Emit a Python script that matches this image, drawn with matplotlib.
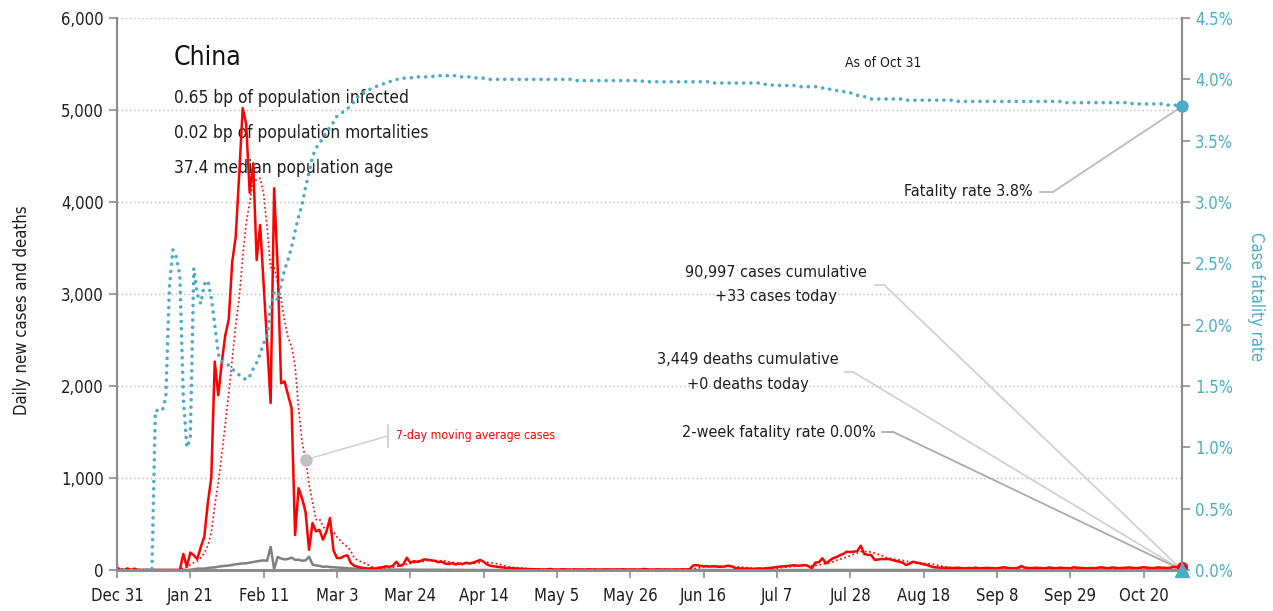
import numpy as np
import pandas as pd
import matplotlib
matplotlib.use('Agg')
import matplotlib.pyplot as plt

# Fonte estreita parecida com a do original
plt.rcParams['font.family'] = ['DejaVu Sans']
plt.rcParams['font.stretch'] = 'condensed'

# ===== DADOS ===== #
datas = pd.date_range('2019-12-31', '2020-10-31', freq='D')

# casos diários (China)
casos = [
    27, 0, 0, 17, 0, 15, 0, 0, 0, 0,
    0, 0, 0, 0, 0, 0, 0, 0, 0, 175,
    35, 190, 160, 120, 250, 360, 725, 1000, 2265, 1900,
    2250, 2550, 2720, 3350, 3620, 4300, 5020, 4850, 4100, 4420,
    3370, 3750, 3100, 2450, 1815, 4150, 3300, 2030, 2050, 1900,
    1760, 380, 890, 780, 630, 220, 510, 420, 435, 330,
    420, 565, 215, 130, 130, 150, 160, 75, 45, 35,
    25, 20, 15, 20, 15, 25, 30, 40, 35, 45,
    90, 45, 60, 134, 80, 95, 90, 100, 116, 110,
    105, 100, 85, 90, 70, 65, 75, 60, 70, 65,
    80, 70, 80, 95, 109, 90, 60, 45, 40, 35,
    30, 25, 20, 20, 18, 15, 12, 10, 10, 8,
    8, 6, 5, 6, 12, 5, 4, 6, 8, 5,
    4, 7, 5, 6, 3, 8, 5, 6, 4, 5,
    7, 5, 4, 6, 5, 8, 4, 5, 6, 4,
    5, 12, 6, 4, 5, 7, 4, 6, 5, 4,
    6, 5, 8, 6, 8, 50, 54, 45, 42, 40,
    38, 40, 36, 35, 38, 47, 40, 22, 18, 15,
    14, 16, 12, 15, 18, 14, 20, 22, 28, 32,
    38, 40, 44, 48, 52, 45, 50, 54, 42, 18,
    80, 85, 127, 72, 100, 127, 140, 160, 175, 199,
    195, 199, 205, 264, 174, 165, 163, 109, 115, 120,
    118, 120, 109, 100, 90, 80, 54, 70, 90, 80,
    72, 62, 54, 40, 30, 28, 25, 22, 24, 20,
    22, 25, 20, 18, 22, 20, 25, 18, 20, 24,
    22, 20, 18, 25, 30, 22, 20, 18, 24, 43,
    26, 22, 20, 25, 22, 18, 20, 28, 22, 20,
    25, 22, 20, 18, 30, 25, 22, 20, 18, 22,
    20, 25, 30, 22, 20, 28, 24, 20, 22, 25,
    28, 22, 20, 25, 30, 26, 22, 20, 28, 25,
    24, 22, 28, 35, 30, 33,
]

# óbitos diários
obitos = [
    0, 0, 0, 0, 0, 0, 0, 0, 0, 0,
    0, 0, 0, 0, 0, 0, 0, 0, 0, 0,
    0, 3, 8, 15, 15, 15, 22, 26, 28, 36,
    42, 45, 48, 55, 62, 66, 72, 73, 80, 88,
    95, 100, 105, 100, 252, 10, 140, 125, 115, 120,
    135, 110, 112, 100, 105, 145, 60, 50, 45, 35,
    38, 32, 30, 28, 25, 22, 18, 15, 12, 11,
    10, 8, 8, 7, 6, 6, 5, 5, 4, 6,
    4, 5, 4, 3, 4, 3, 3, 2, 3, 3,
    2, 3, 2, 2, 1, 2, 1, 1, 2, 1,
    1, 0, 1, 0, 0, 1, 0, 0, 0, 0,
    0, 0, 0, 0, 0, 0, 0, 0, 0, 0,
    0, 0, 0, 0, 0, 0, 0, 0, 0, 0,
    0, 0, 0, 0, 0, 0, 0, 0, 0, 0,
    0, 0, 0, 0, 0, 0, 0, 0, 0, 0,
    0, 0, 0, 0, 0, 0, 0, 0, 0, 0,
    0, 0, 0, 0, 0, 0, 0, 0, 0, 0,
    0, 0, 0, 0, 0, 0, 0, 0, 0, 0,
    0, 0, 0, 0, 0, 0, 0, 0, 0, 0,
    0, 0, 0, 0, 0, 0, 0, 0, 0, 0,
    0, 0, 0, 0, 0, 0, 0, 0, 0, 0,
    0, 0, 0, 0, 0, 0, 0, 0, 0, 0,
    0, 0, 0, 0, 0, 0, 0, 0, 0, 0,
    0, 0, 0, 0, 0, 0, 0, 0, 0, 0,
    0, 0, 0, 0, 0, 0, 0, 0, 0, 0,
    0, 0, 0, 0, 0, 0, 0, 0, 0, 0,
    0, 0, 0, 0, 0, 0, 0, 0, 0, 0,
    0, 0, 0, 0, 0, 0, 0, 0, 0, 0,
    0, 0, 0, 0, 0, 0, 0, 0, 0, 0,
    0, 0, 0, 0, 0, 0, 0, 0, 0, 0,
    0, 0, 0, 0, 0, 0,
]

# taxa de letalidade acumulada (%)
letalidade = [
    0, 0, 0, 0, 0, 0, 0, 0, 0, 0,
    0, 1.30, 1.30, 1.30, 1.41, 2.30, 2.61, 2.55, 2.40, 1.40,
    1.00, 1.07, 2.46, 2.25, 2.17, 2.33, 2.36, 2.22, 2.00, 1.76,
    1.70, 1.68, 1.67, 1.64, 1.61, 1.59, 1.57, 1.55, 1.58, 1.64,
    1.69, 1.76, 1.85, 1.90, 2.15, 2.26, 2.20, 2.33, 2.45, 2.53,
    2.63, 2.76, 2.88, 2.98, 3.12, 3.24, 3.37, 3.44, 3.48, 3.52,
    3.57, 3.61, 3.65, 3.70, 3.72, 3.74, 3.76, 3.79, 3.82, 3.86,
    3.88, 3.90, 3.91, 3.93, 3.94, 3.95, 3.96, 3.97, 3.98, 3.99,
    4.00, 4.00, 4.01, 4.01, 4.01, 4.02, 4.02, 4.02, 4.02, 4.02,
    4.02, 4.03, 4.03, 4.03, 4.03, 4.03, 4.03, 4.03, 4.02, 4.02,
    4.02, 4.02, 4.02, 4.01, 4.01, 4.01, 4.00, 4.00, 4.00, 4.00,
    4.00, 4.00, 4.00, 4.00, 4.00, 4.00, 4.00, 4.00, 4.00, 4.00,
    4.00, 4.00, 4.00, 4.00, 4.00, 4.00, 4.00, 4.00, 4.00, 4.00,
    4.00, 3.99, 3.99, 3.99, 3.99, 3.99, 3.99, 3.99, 3.99, 3.99,
    3.99, 3.99, 3.99, 3.99, 3.99, 3.99, 3.99, 3.99, 3.99, 3.99,
    3.99, 3.98, 3.98, 3.98, 3.98, 3.98, 3.98, 3.98, 3.98, 3.98,
    3.98, 3.98, 3.98, 3.98, 3.98, 3.98, 3.98, 3.98, 3.98, 3.98,
    3.98, 3.97, 3.97, 3.97, 3.97, 3.97, 3.97, 3.97, 3.97, 3.97,
    3.97, 3.97, 3.97, 3.97, 3.97, 3.96, 3.96, 3.96, 3.95, 3.95,
    3.95, 3.95, 3.95, 3.95, 3.95, 3.94, 3.94, 3.94, 3.94, 3.94,
    3.94, 3.94, 3.93, 3.93, 3.92, 3.92, 3.91, 3.90, 3.90, 3.90,
    3.89, 3.88, 3.87, 3.86, 3.86, 3.85, 3.84, 3.84, 3.84, 3.84,
    3.84, 3.84, 3.84, 3.84, 3.84, 3.84, 3.83, 3.83, 3.83, 3.83,
    3.83, 3.83, 3.83, 3.83, 3.83, 3.83, 3.83, 3.83, 3.83, 3.83,
    3.83, 3.82, 3.82, 3.82, 3.82, 3.82, 3.82, 3.82, 3.82, 3.82,
    3.82, 3.82, 3.82, 3.82, 3.82, 3.82, 3.82, 3.82, 3.82, 3.82,
    3.82, 3.82, 3.82, 3.82, 3.82, 3.82, 3.82, 3.82, 3.82, 3.82,
    3.82, 3.81, 3.81, 3.81, 3.81, 3.81, 3.81, 3.81, 3.81, 3.81,
    3.81, 3.81, 3.81, 3.81, 3.81, 3.81, 3.81, 3.81, 3.81, 3.81,
    3.81, 3.80, 3.80, 3.80, 3.80, 3.80, 3.80, 3.80, 3.80, 3.80,
    3.80, 3.79, 3.79, 3.79, 3.78, 3.78,
]

taxa_2_semanas = 0.00
casos_acumulados = '90,997'
casos_hoje = '+33'
obitos_acumulados = '3,449'
obitos_hoje = '+0'

assert len(casos) == len(datas) and len(obitos) == len(datas) and len(letalidade) == len(datas)

df = pd.DataFrame({'casos': casos, 'obitos': obitos, 'letalidade': letalidade}, index=datas)
df['media_movel'] = df['casos'].rolling(7, min_periods=1).mean()

# ===== CORES ===== #
vermelho = '#ff0000'
cinza = '#808080'
azul = '#4bacc6'
eixo = '#8c8c8c'
texto_cor = '#1e1e1e'

fig = plt.figure(figsize=(12.73, 6.11), dpi=100)
ax = fig.add_axes([0.0919, 0.0671, 0.8366, 0.9034])
ax2 = ax.twinx()

# casos e óbitos
ax.plot(df.index, df['obitos'], color=cinza, lw=1.8, zorder=3)
ax.plot(df.index, df['media_movel'], color=vermelho, lw=1.2, linestyle=(0, (1, 1.6)), zorder=4)
ax.plot(df.index, df['casos'], color=vermelho, lw=1.8, zorder=5)
ax.plot(df.index[-1], df['casos'].iloc[-1], 'o', color=vermelho, ms=7, clip_on=False, zorder=6)

# letalidade
ax2.plot(df.index, df['letalidade'], color=azul, lw=2.6, linestyle=(0, (0.01, 2.0)),
         dash_capstyle='round', zorder=3)
ax2.plot(df.index[-1], df['letalidade'].iloc[-1], 'o', color=azul, ms=8, clip_on=False, zorder=6)
ax2.plot(df.index[-1], taxa_2_semanas, '^', color=azul, ms=10, clip_on=False, zorder=6)

# ===== EIXOS ===== #
ax.set_xlim(datas[0], datas[-1])
ax.set_ylim(0, 6000)
ax2.set_ylim(0, 4.5)

ax.set_yticks(np.arange(0, 6001, 1000))
ax.set_yticklabels([f'{v:,}' for v in range(0, 6001, 1000)])
ax2.set_yticks(np.arange(0, 4.51, 0.5))
ax2.set_yticklabels([f'{v:.1f}%' for v in np.arange(0, 4.51, 0.5)])

ticks_x = pd.date_range('2019-12-31', '2020-10-31', freq='21D')
ax.set_xticks(ticks_x)
ax.set_xticklabels([f'{d:%b} {d.day}' for d in ticks_x])

ax.yaxis.grid(True, linestyle=(0, (1, 2)), color='#bbbbbb', lw=1)
ax.set_axisbelow(True)

for a in (ax, ax2):
    a.spines['top'].set_visible(False)
    a.spines['left'].set_color(eixo)
    a.spines['right'].set_color(eixo)
    a.spines['bottom'].set_color(eixo)
    a.spines['left'].set_linewidth(1.5)
    a.spines['right'].set_linewidth(1.5)
    a.spines['bottom'].set_linewidth(2)

ax.tick_params(axis='both', colors=eixo, length=6, width=1.2, labelsize=12, labelcolor=texto_cor)
ax.tick_params(axis='x', pad=6)
ax2.tick_params(axis='y', colors=eixo, length=6, width=1.2, labelsize=12, labelcolor=azul)

ax.set_ylabel('Daily new cases and deaths', fontsize=12, color=texto_cor, va='bottom')
ax.yaxis.set_label_coords(-0.081, 0.47)
ax2.set_ylabel('Case fatality rate', fontsize=12, color=azul, rotation=270, va='bottom')
ax2.yaxis.set_label_coords(1.061, 0.496)

# ===== TEXTOS ===== #
ax.text(0.0535, 0.927, 'China', transform=ax.transAxes, fontsize=19, va='center', ha='left', color='#111111')
ax.text(0.0535, 0.855, '0.65 bp of population infected', transform=ax.transAxes, fontsize=12.4, va='center', color=texto_cor)
ax.text(0.0535, 0.792, '0.02 bp of population mortalities', transform=ax.transAxes, fontsize=12.4, va='center', color=texto_cor)
ax.text(0.0535, 0.728, '37.4 median population age', transform=ax.transAxes, fontsize=12.4, va='center', color=texto_cor)
ax.text(0.6836, 0.9185, 'As of Oct 31', transform=ax.transAxes, fontsize=10, va='center', color=texto_cor)

# rótulos com linhas de chamada
def chamada(texto, xt, yt, ha, x0, x1, alvo, eixo_alvo, cor):
    ax.text(xt, yt, texto, transform=ax.transAxes, fontsize=11.6, ha=ha, va='center',
            color=texto_cor, linespacing=1.8)
    ax.plot([x0, x1], [yt, yt], color=cor, lw=1.3, transform=ax.transAxes, clip_on=False)
    eixo_alvo.annotate('', xy=alvo, xycoords='data', xytext=(x1, yt), textcoords=ax.transAxes,
                       arrowprops=dict(arrowstyle='-', color=cor, lw=1.3, shrinkA=0, shrinkB=0),
                       annotation_clip=False)

chamada(f'Fatality rate {df["letalidade"].iloc[-1]:.1f}%', 0.860, 0.685, 'right', 0.867, 0.879,
        (datas[-1], df['letalidade'].iloc[-1]), ax2, '#bbbbbb')
chamada(f'{casos_acumulados} cases cumulative\n{casos_hoje} cases today', 0.619, 0.517, 'center', 0.712, 0.720,
        (datas[-1], 0), ax, '#d0d0d0')
chamada(f'{obitos_acumulados} deaths cumulative\n{obitos_hoje} deaths today', 0.5925, 0.359, 'center', 0.684, 0.691,
        (datas[-1], 0), ax, '#d0d0d0')
chamada(f'2-week fatality rate {taxa_2_semanas:.2f}%', 0.712, 0.250, 'right', 0.718, 0.729,
        (datas[-1], 0), ax, '#aaaaaa')

# média móvel de 7 dias
i_mm = 54
ax.plot(datas[i_mm], df['media_movel'].iloc[i_mm], 'o', color='#c0c0c0', ms=8, zorder=7)
ax.annotate('', xy=(datas[i_mm], df['media_movel'].iloc[i_mm]), xytext=(0.2545, 0.243),
            textcoords='axes fraction', arrowprops=dict(arrowstyle='-', color='#cccccc', lw=1, shrinkA=0, shrinkB=0))
ax.plot([0.2545, 0.2545], [0.222, 0.262], color='#cccccc', lw=1.2, transform=ax.transAxes)
ax.text(0.262, 0.243, '7-day moving average cases', transform=ax.transAxes, fontsize=8.8,
        color=vermelho, va='center')

plt.savefig('out.png', dpi=100)
